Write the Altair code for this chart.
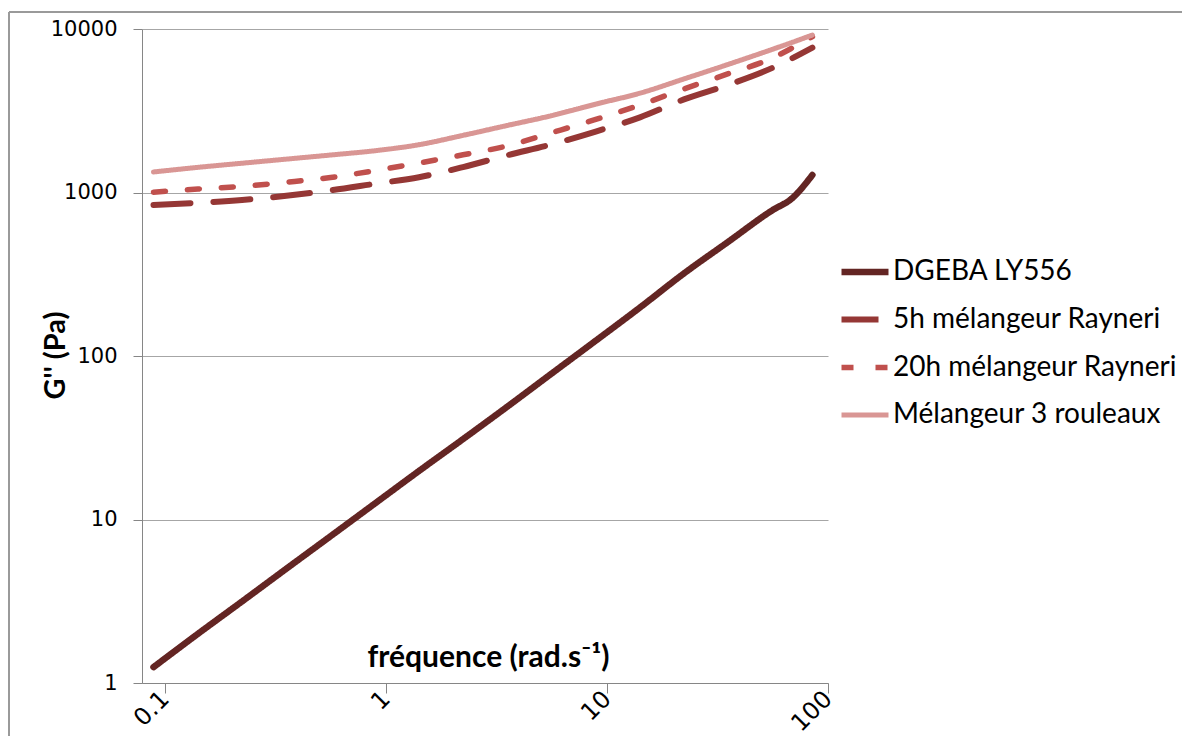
import altair as alt
import pandas as pd

# ---- data ----
freq = [0.0887, 0.141, 0.223, 0.354, 0.561, 0.889, 1.41, 2.23, 3.54, 5.61,
        8.89, 14.1, 22.3, 35.4, 56.1, 68.7, 85.0]
dgeba = [1.25, 2.0, 3.15, 5.0, 7.9, 12.5, 19.8, 31, 49, 78,
         124, 198, 320, 500, 780, 920, 1280]
rayneri_5h = [839, 865, 900, 955, 1030, 1130, 1240, 1430, 1690, 1970,
              2360, 2880, 3710, 4560, 5790, 6610, 7690]
rayneri_20h = [1005, 1050, 1090, 1155, 1235, 1360, 1515, 1700, 1930, 2320,
               2800, 3430, 4300, 5330, 6650, 7650, 8980]
trois_rouleaux = [1335, 1425, 1510, 1600, 1695, 1800, 1960, 2235, 2570, 2950,
                  3470, 4050, 4950, 6080, 7515, 8275, 9190]

series_names = ["DGEBA LY556", "5h mélangeur Rayneri",
                "20h mélangeur Rayneri", "Mélangeur 3 rouleaux"]
series_values = [dgeba, rayneri_5h, rayneri_20h, trois_rouleaux]

x_ticks = [0.1, 1, 10, 100]
y_ticks = [1, 10, 100, 1000, 10000]

# ---- styles ----
colors = ["#632523", "#953735", "#C0504D", "#D99694"]
dashes = [[1, 0], [37, 23], [12, 22], [1, 0]]
widths = [6.5, 5, 5, 4.5]

rows = []
for name, vals in zip(series_names, series_values):
    for f, v in zip(freq, vals):
        rows.append({"serie": name, "freq": f, "G": v})
df = pd.DataFrame(rows)

legend = alt.Legend(
    title=None, orient="none", legendX=696, legendY=216,
    symbolType="stroke", symbolSize=2209, labelFont="Lato",
    labelFontSize=28, labelColor="black", rowPadding=7, labelOffset=1,
    padding=0, labelLimit=400,
)

lines = alt.Chart(df).mark_line(strokeCap="round", strokeJoin="round",
                                interpolate="monotone").encode(
    x=alt.X("freq:Q",
            scale=alt.Scale(type="log", domain=[0.0787, 100], nice=False),
            axis=alt.Axis(values=x_ticks, labelExpr="'' + datum.value",
                          grid=False, labelAngle=315, labelAlign="right",
                          labelBaseline="middle", labelPadding=2, tickSize=10,
                          labelFont="DejaVu Sans", labelFontSize=24,
                          labelColor="black", domainColor="#868686",
                          tickColor="#868686",
                          title="fréquence (rad.s⁻¹)", titleFont="Lato",
                          titleFontSize=30, titleFontWeight="bold",
                          titleColor="black", titleX=346, titleY=-26,
                          titleBaseline="middle", titleAlign="center")),
    y=alt.Y("G:Q",
            scale=alt.Scale(type="log", domain=[1, 10000], nice=False),
            axis=alt.Axis(values=y_ticks, labelExpr="'' + datum.value",
                          grid=True, gridColor="#A6A6A6", tickSize=9,
                          labelPadding=16, labelFont="DejaVu Sans",
                          labelFontSize=21, labelColor="black",
                          domainColor="#868686", tickColor="#868686",
                          title="G'' (Pa)", titleFont="Lato", titleFontSize=29,
                          titleFontWeight="bold", titleColor="black",
                          titleAngle=270, titleX=-87, titleY=326,
                          titleBaseline="middle", titleAlign="center")),
    color=alt.Color("serie:N", scale=alt.Scale(domain=series_names, range=colors),
                    sort=series_names, legend=legend),
    strokeDash=alt.StrokeDash("serie:N",
                              scale=alt.Scale(domain=series_names, range=dashes),
                              sort=series_names, legend=legend),
    strokeWidth=alt.StrokeWidth("serie:N",
                                scale=alt.Scale(domain=series_names, range=widths),
                                sort=series_names, legend=legend),
    order=alt.Order("freq:Q"),
)

border_top = alt.Chart(df).mark_rule(color="#9A9A9A", strokeWidth=1.5).encode(
    x=alt.value(-133), x2=alt.value(1040), y=alt.value(-17))
border_left = alt.Chart(df).mark_rule(color="#9A9A9A", strokeWidth=1.5).encode(
    x=alt.value(-133), y=alt.value(-17), y2=alt.value(720))

chart = alt.layer(border_top, border_left, lines).properties(
    width=686, height=654,
    padding={"left": 134, "top": 21, "right": 359, "bottom": 53},
    autosize=alt.AutoSizeParams(type="none"),
    background="white",
).configure_view(stroke=None)

chart.save("out.html", embed_options={"renderer": "svg", "actions": False})
